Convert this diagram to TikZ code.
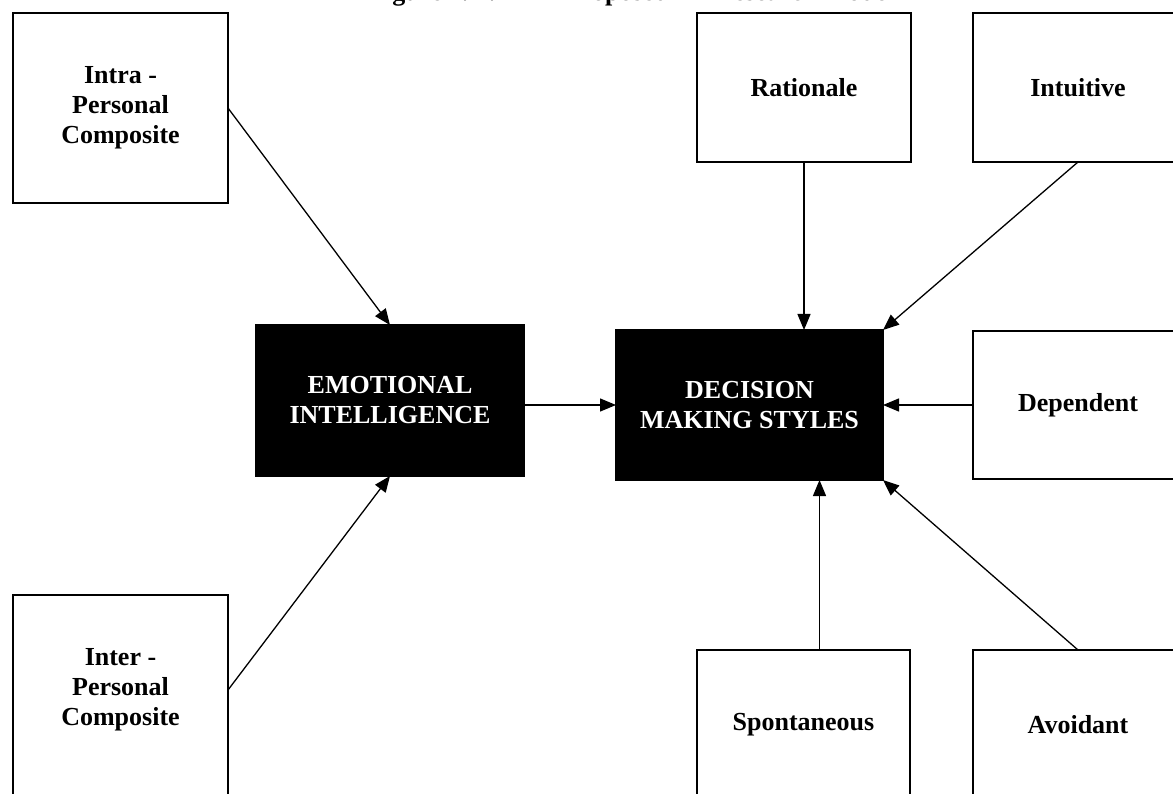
\documentclass[tikz,border=0pt]{standalone}
\usepackage{fontspec}
\setmainfont{Liberation Serif}
\usetikzlibrary{arrows.meta}
\begin{document}
\begin{tikzpicture}[x=1pt,y=-1pt,
  box/.style={draw=black, line width=2pt, fill=white, inner sep=0pt, outer sep=0pt,
    align=center, font=\fontsize{26}{30}\selectfont\bfseries},
  dark/.style={box, fill=black, text=white},
  lbl/.style={align=center, inner sep=0pt, font=\fontsize{26}{30}\selectfont\bfseries},
  ttl/.style={anchor=base west, inner sep=0pt, font=\fontsize{26}{30}\selectfont\bfseries},
  link/.style={line width=1.3pt, -{Triangle[length=16pt,width=13pt]}}]
\useasboundingbox (0,0) rectangle (1173,794);
\clip (0,0) rectangle (1173,794);
\fill[white] (0,0) rectangle (1173,794);
% title (cut off at the top)
\node[ttl] (title1) at (369,0.5) {Figure 1.1 :};
\node[ttl] (title2) at (565,0.5) {Proposed\hspace{46pt}Research Model};
% left boxes
\node[box, minimum width=215pt, minimum height=190pt] (intra) at (120.5,108) {Intra -\\Personal\\Composite};
\node[box, minimum width=215pt, minimum height=205pt] (inter) at (120.5,697.5) {};
\node[lbl] (intertxt) at (120.5,690) {Inter -\\Personal\\Composite};
% central boxes
\node[dark, minimum width=268pt, minimum height=151pt] (ei) at (390,400.5) {EMOTIONAL\\INTELLIGENCE};
\node[dark, minimum width=267pt, minimum height=150pt] (dms) at (749.5,405) {DECISION\\MAKING STYLES};
% right boxes
\node[box, minimum width=214pt, minimum height=149pt] (rat) at (804,87.5) {Rationale};
\node[box, minimum width=210pt, minimum height=149pt] (int) at (1078,87.5) {Intuitive};
\node[box, minimum width=210pt, minimum height=148pt] (dep) at (1078,405) {Dependent};
\node[box, minimum width=213pt, minimum height=149pt] (spo) at (803.5,724.5) {Spontaneous};
\node[box, minimum width=210pt, minimum height=149pt] (avo) at (1078,724.5) {Avoidant};
% connectors
\draw[link] (intra.east) -- (ei.north);
\draw[link] (inter.east |- intertxt) -- (ei.south);
\draw[link] (ei.east |- dms.west) -- (dms.west);
\draw[link] (rat.south) -- (rat.south |- dms.north);
\draw[link] (int.south) -- (dms.north east);
\draw[link] (dep.west) -- (dms.east);
\draw[link] ([xshift=16pt]spo.north) -- ([xshift=16pt]spo.north |- dms.south);
\draw[link] (avo.north) -- (dms.south east);
\end{tikzpicture}
\end{document}
